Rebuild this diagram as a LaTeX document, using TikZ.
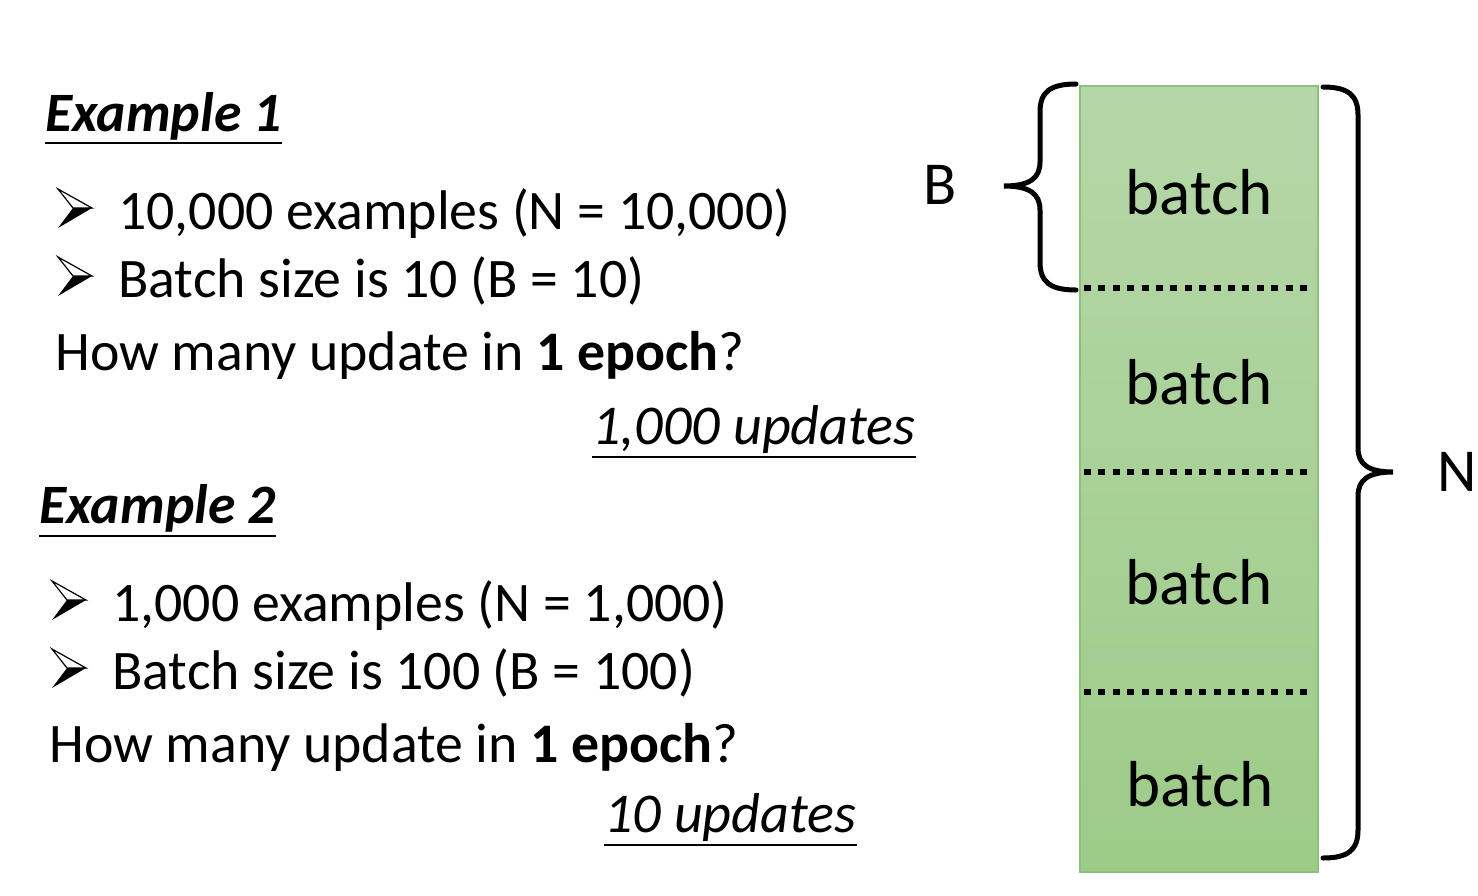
\documentclass[tikz,border=0pt]{standalone}
\usepackage{fontspec}
\setmainfont{Carlito}
\begin{document}
\begin{tikzpicture}[x=0.5pt,y=-0.5pt,
  txt/.style={anchor=base west,inner sep=0pt,font=\fontsize{27.9}{34}\selectfont},
  head/.style={anchor=base west,inner sep=0pt,font=\fontsize{27.8}{34}\selectfont\bfseries\itshape},
  ans/.style={anchor=base west,inner sep=0pt,font=\fontsize{28.1}{34}\selectfont\itshape},
  blab/.style={anchor=base,inner sep=0pt,font=\fontsize{32.5}{38}\selectfont},
  ul/.style={line width=1pt},
  brace/.style={line width=2.5pt,line cap=round},
  dotline/.style={line width=2.8pt,dash pattern=on 3.5pt off 3.7pt},
  bul/.pic={
    \draw[line width=0.6pt,fill=white,line join=miter] (0,0) -- (34,19) -- (15,19) -- cycle;
    \fill[black] (0,39) -- (34,19) -- (15,19) -- cycle;
  }]
\definecolor{gtop}{HTML}{B5D7A8}
\definecolor{gbot}{HTML}{9DCB88}
\definecolor{gbord}{HTML}{8CC17A}
\useasboundingbox (0,0) rectangle (1478,895);

% Example 1
\node[head] (ex1) at (45,131) {Example 1};
\draw[ul] ([yshift=-6pt]ex1.base west) -- ([yshift=-6pt]ex1.base east);
\pic at (58,189) {bul};
\node[txt] (e1a) at (118,229) {10,000 examples (N = 10,000)};
\pic at (58,257) {bul};
\node[txt] (e1b) at (118,297) {Batch size is 10 (B = 10)};
\node[txt] (e1q) at (55,370) {How many update in \textbf{1 epoch}?};
\node[ans] (e1r) at (592,444) {1,000 updates};
\draw[ul] ([yshift=-6.5pt]e1r.base west) -- ([yshift=-6.5pt]e1r.base east);

% Example 2
\node[head] (ex2) at (39,523) {Example 2};
\draw[ul] ([yshift=-6.5pt]ex2.base west) -- ([yshift=-6.5pt]ex2.base east);
\pic at (52,581) {bul};
\node[txt] (e2a) at (112,621) {1,000 examples (N = 1,000)};
\pic at (52,649) {bul};
\node[txt] (e2b) at (112,689) {Batch size is 100 (B = 100)};
\node[txt] (e2q) at (49,762) {How many update in \textbf{1 epoch}?};
\node[ans] (e2r) at (604,832) {10 updates};
\draw[ul] ([yshift=-6.5pt]e2r.base west) -- ([yshift=-6.5pt]e2r.base east);

% column
\node[draw=gbord,line width=0.8pt,top color=gtop,bottom color=gbot,minimum width=119pt,minimum height=393pt,inner sep=0pt] (col) at (1199,479) {};
\node[blab] (b1) at (1199,214) {batch};
\node[blab] (b2) at (1199,404) {batch};
\node[blab] (b3) at (1199,604) {batch};
\node[blab] (b4) at (1200,806) {batch};
\coordinate (d1l) at (1084,288); \coordinate (d1r) at (1312,288);
\coordinate (d2l) at (1084,472); \coordinate (d2r) at (1312,472);
\coordinate (d3l) at (1084,692); \coordinate (d3r) at (1314,692);
\draw[dotline] (d1l) -- (d1r);
\draw[dotline] (d2l) -- (d2r);
\draw[dotline] (d3l) -- (d3r);

% left brace
\draw[brace] (1076,84) .. controls (1050,84) and (1040,92) .. (1040,112) -- (1040,162)
  .. controls (1040,178) and (1030,186) .. (1004,186)
  .. controls (1030,186) and (1040,194) .. (1040,210) -- (1040,262)
  .. controls (1040,282) and (1050,290) .. (1076,290);
\node[blab,font=\fontsize{30.5}{36}\selectfont] (B) at (940,204) {B};

% right brace
\draw[brace] (1323,87) .. controls (1348,87) and (1358,95) .. (1358,115) -- (1358,448)
  .. controls (1358,464) and (1368,472) .. (1393,472)
  .. controls (1368,472) and (1358,480) .. (1358,496) -- (1358,830)
  .. controls (1358,850) and (1348,858) .. (1323,858);
\node[blab,font=\fontsize{30.5}{36}\selectfont] (N) at (1457,491) {N};
\end{tikzpicture}
\end{document}
